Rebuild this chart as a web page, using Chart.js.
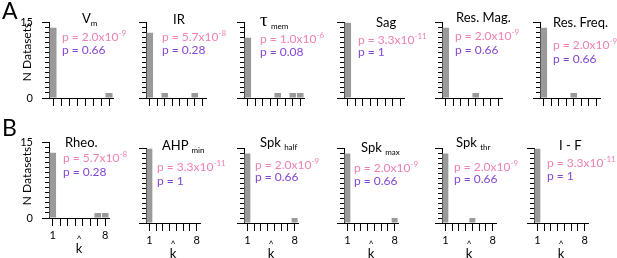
<!DOCTYPE html>
<html>
<head>
<meta charset="utf-8">
<script src="https://cdn.jsdelivr.net/npm/chart.js@4"></script>
<style>
  body { margin: 0; width: 617px; height: 258px; background: #fff; position: relative; overflow: hidden;
         font-family: Lato, "DejaVu Sans", sans-serif; color: #000; }
  canvas { position: absolute; }
  .t { position: absolute; white-space: nowrap; }
  .title { font-size: 13px; line-height: 14px; }
  .title sub { font-size: 8px; vertical-align: -3px; line-height: 0; }
  .tau { font-family: "Liberation Serif", serif; font-size: 19px; }
  .p { font-size: 12px; line-height: 12px; }
  .p sup { font-size: 8px; vertical-align: 5px; line-height: 0; }
  .pink { color: #ef80b2; }
  .purple { color: #8446d2; }
  .letter { font-size: 23px; line-height: 23px; }
  .ylab { font-size: 12px; transform: translate(-50%, -50%) rotate(-90deg); }
  .khat { transform: translateX(-50%); text-align: center; }
  .khat .hat { font-size: 9px; line-height: 6px; }
  .khat .k { font-size: 13px; line-height: 12px; }
</style>
</head>
<body>
<script>
const kLabels = ['1', '2', '3', '4', '5', '6', '7', '8'];
const yTickLabels = ['0', '15'];

// number of datasets per fitted k-hat
const countsVm      = [14, 0, 0, 0, 0, 0, 0, 1];
const countsIR      = [13, 0, 1, 0, 0, 0, 1, 0];
const countsTauMem  = [12, 0, 0, 0, 1, 0, 1, 1];
const countsSag     = [15, 0, 0, 0, 0, 0, 0, 0];
const countsResMag  = [14, 0, 0, 0, 1, 0, 0, 0];
const countsResFreq = [14, 0, 0, 0, 1, 0, 0, 0];
const countsRheo    = [13, 0, 0, 0, 0, 0, 1, 1];
const countsAHPmin  = [15, 0, 0, 0, 0, 0, 0, 0];
const countsSpkHalf = [14, 0, 0, 0, 0, 0, 0, 1];
const countsSpkMax  = [14, 0, 0, 0, 0, 0, 0, 1];
const countsSpkThr  = [14, 0, 0, 0, 1, 0, 0, 0];
const countsIF      = [15, 0, 0, 0, 0, 0, 0, 0];

const panelTitles = ['V<sub>m</sub>', 'IR', '<span class="tau">τ</span> <sub>mem</sub>', 'Sag', 'Res. Mag.', 'Res. Freq.',
                     'Rheo.', 'AHP <sub>min</sub>', 'Spk <sub>half</sub>', 'Spk <sub>max</sub>', 'Spk <sub>thr</sub>', 'I - F'];
const pMantissa = ['2.0', '5.7', '1.0', '3.3', '2.0', '2.0', '5.7', '3.3', '2.0', '2.0', '2.0', '3.3'];
const pExponent = ['-9', '-8', '-6', '-11', '-9', '-9', '-8', '-11', '-9', '-9', '-9', '-11'];
const pNull     = ['0.66', '0.28', '0.08', '1', '0.66', '0.66', '0.28', '1', '0.66', '0.66', '0.66', '1'];

const allCounts = [countsVm, countsIR, countsTauMem, countsSag, countsResMag, countsResFreq,
                   countsRheo, countsAHPmin, countsSpkHalf, countsSpkMax, countsSpkThr, countsIF];

// layout: y-axis x, plot top, plot width, plot height
const boxes = [
  [49, 12, 64, 86], [146, 12, 60, 86], [244, 12, 60, 86], [344, 12, 60, 86], [442, 12, 60, 86], [540, 12, 60, 86],
  [49, 132, 60, 86], [146, 138, 54, 85], [244, 138, 54, 85], [344, 138, 54, 85], [442, 138, 54, 85], [534, 138, 54, 85]
];
const titleAt = [[82, 18], [173, 19], [260, 20], [376, 22], [456, 17], [553, 22],
                 [65, 142], [162, 145], [260, 142], [361, 147], [456, 142], [559, 145]];
const pAt = [[62, 37, 50], [162, 37, 50], [260, 39, 52], [358, 40, 52], [455, 36, 50], [553, 45, 59],
             [63, 158, 172], [157, 167, 181], [255, 165, 177], [354, 168, 181], [454, 167, 179], [547, 163, 176]];

const YW = 40, PT = 8, PR = 4, XH = 32;
Chart.defaults.font.family = 'Lato';

// longer ticks at the ends of the y axis
const majorTicks = {
  id: 'majorTicks',
  afterDraw(chart) {
    const y = chart.scales.y, ctx = chart.ctx;
    ctx.save();
    ctx.strokeStyle = '#000';
    ctx.lineWidth = 1;
    [0, 15].forEach(v => {
      const py = Math.round(y.getPixelForValue(v) - 0.5) + 0.5;
      ctx.beginPath();
      ctx.moveTo(y.right - 7, py);
      ctx.lineTo(y.right, py);
      ctx.stroke();
    });
    ctx.restore();
  }
};

function addText(cls, x, y, html) {
  const d = document.createElement('div');
  d.className = 't ' + cls;
  d.style.left = x + 'px';
  d.style.top = y + 'px';
  d.innerHTML = html;
  document.body.appendChild(d);
  return d;
}

allCounts.forEach((counts, i) => {
  const [ax, top, w, h] = boxes[i];
  const showY = i === 0 || i === 6;
  const showX = i >= 6;
  const cv = document.createElement('canvas');
  cv.width = YW + w + PR;
  cv.height = PT + h + XH;
  cv.style.left = (ax - YW) + 'px';
  cv.style.top = (top - PT) + 'px';
  document.body.appendChild(cv);

  new Chart(cv, {
    type: 'bar',
    data: {
      labels: kLabels,
      datasets: [{ data: counts, backgroundColor: '#9a9a9a', borderWidth: 0,
                   barPercentage: 0.88, categoryPercentage: 1 }]
    },
    options: {
      responsive: false,
      animation: false,
      events: [],
      layout: { padding: { top: PT, right: PR, left: 0, bottom: 0 } },
      plugins: { legend: { display: false }, tooltip: { enabled: false } },
      scales: {
        x: {
          offset: true,
          grid: { offset: false, drawOnChartArea: false, tickLength: 8, color: '#000', lineWidth: 1 },
          border: { color: '#000', width: 1 },
          ticks: {
            autoSkip: false, maxRotation: 0, padding: 3, color: '#000', font: { size: 11 },
            callback: (v, idx) => (showX && (idx === 0 || idx === kLabels.length - 1)) ? kLabels[idx] : ''
          },
          afterFit: s => { s.height = XH; }
        },
        y: {
          min: 0, max: 15,
          grid: { drawOnChartArea: false, tickLength: 4, color: '#000', lineWidth: 1 },
          border: { color: '#000', width: 1 },
          ticks: {
            stepSize: 1, autoSkip: false, padding: 12, color: '#000', font: { size: 11 },
            callback: v => (showY && yTickLabels.includes(String(v))) ? String(v) : ''
          },
          afterFit: s => { s.width = YW; }
        }
      }
    },
    plugins: [majorTicks]
  });

  const [tx, ty] = titleAt[i];
  addText('title', tx, ty - 7, panelTitles[i]);
  const [px, py1, py2] = pAt[i];
  addText('p pink', px, py1 - 6, 'p = ' + pMantissa[i] + 'x10<sup>' + pExponent[i] + '</sup>');
  addText('p purple', px, py2 - 6, 'p = ' + pNull[i]);

  if (showX) {
    addText('khat', ax + w / 2, top + h + 18, '<div class="hat">^</div><div class="k">k</div>');
  }
});

addText('letter', 2, -1, 'A');
addText('letter', 2, 116, 'B');
addText('ylab', 26, 52, 'N Datasets');
addText('ylab', 26, 176, 'N Datasets');
</script>
</body>
</html>
